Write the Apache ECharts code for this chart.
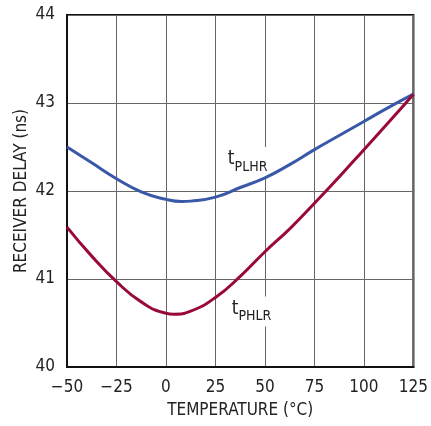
<!DOCTYPE html>
<html>
<head>
<meta charset="utf-8">
<script src="https://cdn.jsdelivr.net/npm/echarts@6/dist/echarts.min.js"></script>
<style>
html,body{margin:0;padding:0;background:#fff;}
#c{width:431px;height:426px;}
</style>
</head>
<body>
<div id="c"></div>
<script>
var tempsPLHR = [-50, -37.5, -25, -12.5, 0, 8, 12.5, 25, 37.5, 50, 62.5, 75, 87.5, 100, 112.5, 125];
var tPLHR =     [42.50, 42.32, 42.14, 41.99, 41.905, 41.88, 41.885, 41.93, 42.04, 42.15, 42.30, 42.47, 42.63, 42.79, 42.95, 43.10];
var tempsPHLR = [-50, -37.5, -25, -12.5, 0, 4, 12.5, 25, 37.5, 50, 62.5, 75, 87.5, 100, 112.5, 125];
var tPHLR =     [41.59, 41.26, 40.97, 40.74, 40.61, 40.60, 40.635, 40.79, 41.03, 41.31, 41.57, 41.86, 42.16, 42.47, 42.78, 43.10];
var xTicks = {min: -50, max: 125, interval: 25};
var yTicks = {min: 40, max: 44, interval: 1};
var labelPLHR = {name: 'PLHR', coord: [41.5, 42.33]};
var labelPHLR = {name: 'PHLR', coord: [43.5, 40.63]};

var FONT = "'Liberation Sans Narrow', 'DejaVu Sans Condensed', 'Liberation Sans', sans-serif";
var TXT = '#222';

function pairs(xs, ys) { return xs.map(function (x, i) { return [x, ys[i]]; }); }
function subLabel(item) {
  return {
    coord: item.coord,
    symbol: 'rect',
    symbolSize: 0,
    label: {
      show: true,
      position: 'inside',
      formatter: '{t|t}{s|' + item.name + '}',
      backgroundColor: '#fff',
      padding: [3, 3, 3, 2],
      rich: {
        t: {fontFamily: FONT, fontSize: 19, color: TXT, lineHeight: 24, verticalAlign: 'top'},
        s: {fontFamily: FONT, fontSize: 14, color: TXT, lineHeight: 24, verticalAlign: 'bottom'}
      }
    }
  };
}

var chart = echarts.init(document.getElementById('c'), null, {renderer: 'canvas'});
chart.setOption({
  animation: false,
  backgroundColor: '#fff',
  grid: {left: 67, right: 14, top: 15, bottom: 59, show: true, borderColor: '#111', borderWidth: 2, backgroundColor: 'transparent'},
  xAxis: {
    type: 'value', min: xTicks.min, max: xTicks.max, interval: xTicks.interval,
    name: 'TEMPERATURE (°C)', nameLocation: 'middle', nameGap: 35, nameMoveOverlap: false,
    nameTextStyle: {fontFamily: FONT, fontSize: 17, color: TXT},
    axisLine: {show: true, onZero: false, lineStyle: {color: '#111', width: 2}},
    axisTick: {show: false},
    axisLabel: {fontFamily: FONT, fontSize: 17, color: TXT, margin: 12,
      formatter: function (v) { return v < 0 ? '\u2212' + Math.abs(v) : String(v); }},
    splitLine: {show: true, lineStyle: {color: '#666', width: 1}}
  },
  yAxis: {
    type: 'value', min: yTicks.min, max: yTicks.max, interval: yTicks.interval,
    name: 'RECEIVER DELAY (ns)', nameLocation: 'middle', nameGap: 37, nameMoveOverlap: false,
    nameTextStyle: {fontFamily: FONT, fontSize: 17, color: TXT},
    axisLine: {show: true, onZero: false, lineStyle: {color: '#111', width: 2}},
    axisTick: {show: false},
    axisLabel: {fontFamily: FONT, fontSize: 17, color: TXT, margin: 12},
    splitLine: {show: true, lineStyle: {color: '#666', width: 1}}
  },
  series: [
    {
      name: 'tPLHR', type: 'line', data: pairs(tempsPLHR, tPLHR), smooth: 0.5, showSymbol: false,
      lineStyle: {color: '#3a58a8', width: 3}, z: 3,
      markPoint: {silent: true, data: [subLabel(labelPLHR)], z: 2}
    },
    {
      name: 'tPHLR', type: 'line', data: pairs(tempsPHLR, tPHLR), smooth: 0.5, showSymbol: false,
      lineStyle: {color: '#9a0a38', width: 3}, z: 3,
      markPoint: {silent: true, data: [subLabel(labelPHLR)], z: 2}
    }
  ]
});
</script>
</body>
</html>
